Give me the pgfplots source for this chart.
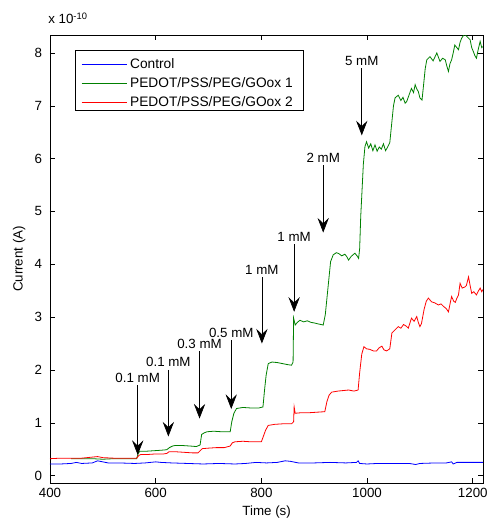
\documentclass[border=0pt]{standalone}
\usepackage{pgfplots}
\pgfplotsset{compat=1.18}
\usepackage{fontspec}
\setmainfont{Liberation Sans}
\usetikzlibrary{arrows.meta}
\definecolor{mgreen}{rgb}{0,0.5,0}

\begin{document}
\begin{tikzpicture}[
  arr/.style={black, line width=0.5pt, -{Stealth[length=11pt, width=8.5pt, inset=4pt]}},
  lab/.style={anchor=south, inner sep=1pt, yshift=1pt, font=\fontsize{10}{12}\selectfont}]
\begin{axis}[
  scale only axis, width=325pt, height=336pt,
  xmin=400, xmax=1220, ymin=-0.14, ymax=8.34,
  xtick={400,600,...,1200}, ytick={0,1,...,8},
  tick align=inside, tick pos=both, major tick length=3.75pt,
  tick style={black, line width=0.4pt},
  axis line style={line width=0.5pt},
  /pgf/number format/assume math mode=true,
  /pgf/number format/1000 sep={},
  tick label style={font=\fontsize{10}{12}\selectfont},
  yticklabel style={xshift=-2.5pt},
  label style={font=\fontsize{10}{12}\selectfont},
  xlabel={Time (s)}, ylabel={Current (A)},
  legend style={at={(0.071,0.954)}, anchor=north west, draw=none, fill=none,
    font=\fontsize{10.3}{12}\selectfont, row sep=1.2pt, inner sep=0pt},
  legend cell align=left,
  legend image code/.code={\draw[#1, line width=0.8pt] (0pt,0pt) -- (34pt,0pt);},
]
\addplot[color=blue, line width=0.6pt] coordinates {
(400,0.22)(420,0.22)(440,0.23)(450,0.25)(460,0.23)(480,0.24)(490,0.28)(500,0.26)(510,0.24)
(530,0.24)(560,0.23)(580,0.24)(600,0.26)(610,0.25)(630,0.24)(660,0.23)(690,0.22)(720,0.23)
(750,0.22)(770,0.23)(790,0.25)(810,0.24)(830,0.25)(845,0.28)(855,0.27)(870,0.24)(900,0.24)
(930,0.25)(960,0.24)(980,0.25)(983,0.28)(986,0.23)(1000,0.22)(1020,0.23)(1050,0.23)(1080,0.23)
(1092,0.21)(1100,0.23)(1130,0.24)(1150,0.24)(1160,0.26)(1163,0.22)(1170,0.25)(1200,0.25)(1219,0.25)};
\addlegendentry{Control}
\addplot[color=mgreen, line width=0.6pt] coordinates {
(440,0.32)(460,0.32)(480,0.32)(500,0.31)(520,0.32)(540,0.32)(564,0.32)(567,0.42)(570,0.46)
(580,0.46)(595,0.47)(610,0.48)(621,0.49)(626,0.53)(632,0.56)(637,0.57)(650,0.57)(665,0.56)
(677,0.55)(684,0.58)(687,0.78)(692,0.81)(697,0.83)(710,0.84)(725,0.83)(741,0.83)(744,1.02)
(748,1.18)(753,1.27)(765,1.29)(780,1.28)(795,1.28)(803,1.30)(806,1.62)(809,1.9)(813,2.12)
(820,2.15)(830,2.14)(840,2.12)(850,2.10)(857,2.09)(860,2.15)(861,2.98)(864,2.85)(868,2.9)
(873,2.94)(880,2.91)(887,2.93)(894,2.9)(900,2.89)(908,2.87)(913,2.86)(917,2.85)(921,3.05)
(925,3.45)(928,3.75)(931,4.05)(936,4.18)(942,4.22)(947,4.2)(952,4.16)(958,4.19)(962,4.14)
(965,4.08)(970,4.15)(977,4.21)(981,4.16)(984,4.11)(986,4.3)(988,4.9)(990,5.3)(993,5.9)
(996,6.23)(999,6.32)(1003,6.2)(1007,6.28)(1011,6.15)(1015,6.26)(1019,6.14)(1023,6.22)
(1027,6.18)(1031,6.28)(1035,6.15)(1039,6.22)(1043,6.3)(1047,6.7)(1050,7.0)(1053,7.15)
(1059,7.2)(1064,7.1)(1068,7.16)(1072,7.05)(1075,7.08)(1080,7.22)(1084,7.33)(1088,7.25)
(1091,7.4)(1094,7.32)(1097,7.27)(1100,7.15)(1104,7.11)(1107,7.4)(1110,7.7)(1113,7.87)
(1119,7.93)(1125,7.85)(1132,8.0)(1138,7.84)(1143,7.9)(1148,7.87)(1151,7.75)(1154,7.65)
(1157,7.8)(1160,7.87)(1163,8.0)(1166,8.15)(1170,8.1)(1173,8.06)(1176,8.2)(1179,8.28)
(1183,8.34)(1186,8.34)(1190,8.3)(1195,8.25)(1198,8.1)(1201,8.03)(1204,7.95)(1207,7.9)
(1210,8.05)(1214,8.22)(1217,8.1)(1219,8.12)};
\addlegendentry{PEDOT/PSS/PEG/GOox 1}
\addplot[color=red, line width=0.6pt] coordinates {
(400,0.32)(420,0.33)(440,0.33)(460,0.33)(480,0.35)(490,0.36)(500,0.34)(520,0.33)(540,0.33)
(555,0.33)(564,0.33)(568,0.38)(572,0.40)(585,0.40)(600,0.41)(615,0.41)(621,0.42)(625,0.45)
(640,0.45)(655,0.44)(670,0.43)(680,0.43)(684,0.47)(688,0.51)(700,0.52)(715,0.53)(730,0.53)
(741,0.56)(745,0.62)(750,0.64)(765,0.65)(780,0.64)(800,0.64)(804,0.75)(808,0.86)(813,0.95)
(825,0.97)(840,0.98)(857,0.98)(861,1.02)(862,1.30)(864,1.18)(875,1.19)(890,1.19)(905,1.2)
(920,1.21)(924,1.40)(928,1.52)(933,1.58)(945,1.6)(955,1.61)(965,1.62)(975,1.6)(983,1.62)
(986,1.95)(990,2.3)(994,2.44)(999,2.40)(1005,2.39)(1012,2.36)(1018,2.36)(1023,2.42)
(1028,2.45)(1032,2.38)(1037,2.36)(1043,2.4)(1047,2.70)(1053,2.76)(1059,2.82)(1064,2.79)
(1069,2.86)(1074,2.83)(1078,2.79)(1084,2.98)(1089,2.92)(1094,3.01)(1097,2.9)(1100,2.82)
(1103,2.88)(1108,3.15)(1112,3.3)(1116,3.36)(1122,3.29)(1128,3.27)(1135,3.23)(1140,3.25)
(1145,3.2)(1150,3.16)(1154,3.1)(1157,3.25)(1160,3.39)(1164,3.3)(1167,3.28)(1170,3.36)
(1173,3.42)(1176,3.64)(1180,3.55)(1185,3.57)(1188,3.6)(1192,3.76)(1195,3.6)(1198,3.45)
(1202,3.48)(1207,3.42)(1211,3.5)(1214,3.55)(1217,3.48)(1219,3.52)};
\addlegendentry{PEDOT/PSS/PEG/GOox 2}
% legend frame
\draw[black, line width=0.5pt] (rel axis cs:0.0577,0.9665) rectangle (rel axis cs:0.584,0.8326);
% concentration arrows
\draw[arr] (axis cs:566,1.71) -- (axis cs:566,0.39);
\node[lab] at (axis cs:566,1.71) {0.1 mM};
\draw[arr] (axis cs:624,2.00) -- (axis cs:624,0.74);
\node[lab] at (axis cs:624,2.00) {0.1 mM};
\draw[arr] (axis cs:683,2.35) -- (axis cs:683,1.08);
\node[lab] at (axis cs:683,2.35) {0.3 mM};
\draw[arr] (axis cs:743,2.56) -- (axis cs:743,1.26);
\node[lab] at (axis cs:743,2.56) {0.5 mM};
\draw[arr] (axis cs:801,3.75) -- (axis cs:801,2.50);
\node[lab] at (axis cs:801,3.75) {1 mM};
\draw[arr] (axis cs:862,4.38) -- (axis cs:862,3.10);
\node[lab] at (axis cs:862,4.38) {1 mM};
\draw[arr] (axis cs:917,5.87) -- (axis cs:917,4.60);
\node[lab] at (axis cs:917,5.87) {2 mM};
\draw[arr] (axis cs:990,7.71) -- (axis cs:990,6.44);
\node[lab] at (axis cs:990,7.71) {5 mM};
\coordinate (bl) at (rel axis cs:0,0);
\coordinate (tr) at (rel axis cs:1,1);
\end{axis}
\path (bl |- tr) ++(-1.5pt,8pt) node[anchor=south west, inner sep=0pt,
  font=\fontsize{10}{12}\selectfont] {x 10\textsuperscript{-10}};
\pgfresetboundingbox
\path[use as bounding box] ([xshift=-37.5pt,yshift=-29.25pt]bl) rectangle ([xshift=2.25pt,yshift=26.25pt]tr);
\end{tikzpicture}
\end{document}
